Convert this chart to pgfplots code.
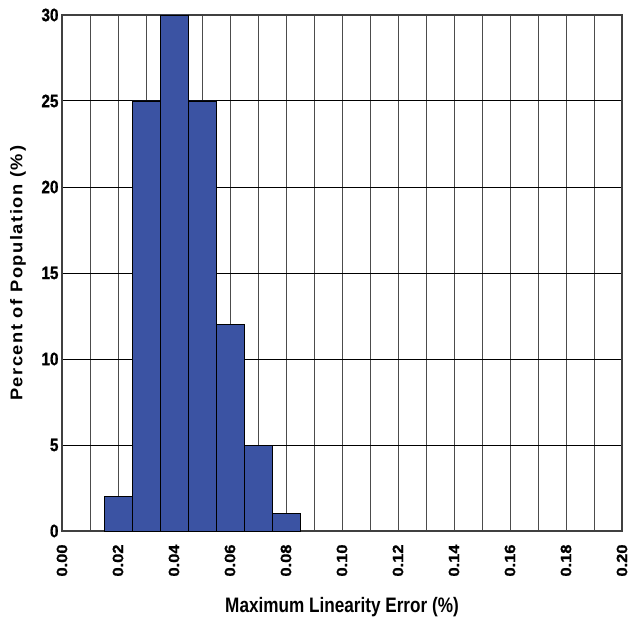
\documentclass[border=0pt]{standalone}
\usepackage{pgfplots}
\pgfplotsset{compat=1.18}
\usepackage{fontspec}
\setmainfont{Liberation Sans}
\newfontfamily\narrowfont{Liberation Sans}[FakeStretch=0.82]
\newfontfamily\ytickfont{Liberation Sans}[FakeStretch=0.85,FakeBold=1]
\newfontfamily\xtickfont{Liberation Sans}[FakeStretch=1.1,FakeBold=1]
\newfontfamily\spacedfont{Liberation Sans}[FakeStretch=1.08,LetterSpace=9]
\definecolor{barblue}{RGB}{59,83,163}
\begin{document}
\begin{tikzpicture}
\path[use as bounding box] (-62bp,-92bp) rectangle (570bp,531bp);
\begin{axis}[
  at={(0,0)}, anchor=south west,
  scale only axis, width=560bp, height=516bp,
  xmin=0, xmax=0.2, ymin=0, ymax=30,
  xtick={0,0.02,...,0.201},
  minor xtick={0.01,0.03,...,0.191},
  ytick={0,5,...,30},
  xmajorgrids, xminorgrids, ymajorgrids,
  major x grid style={draw=black!70, line width=1pt},
  minor x grid style={draw=black!70, line width=1pt},
  major y grid style={draw=black, line width=1pt},
  axis line style={draw=black!75, line width=1.1pt},
  major tick length=0pt, minor tick length=0pt,
  /pgf/number format/assume math mode=true,
  xticklabel style={rotate=90, anchor=east, font=\xtickfont\bfseries\fontsize{15}{15}\selectfont,
    /pgf/number format/fixed, /pgf/number format/fixed zerofill, /pgf/number format/precision=2},
  yticklabel style={font=\ytickfont\bfseries\fontsize{18}{18}\selectfont},
  xticklabel shift=10bp,
  yticklabel shift=0bp,
  xlabel={Maximum Linearity Error (\%)},
  ylabel={Percent of Population (\%\,)},
  xlabel style={font=\narrowfont\bfseries\fontsize{21}{21}\selectfont, at={(axis description cs:0.5,0)}, anchor=center, yshift=-76bp},
  ylabel style={font=\spacedfont\bfseries\fontsize{17}{17}\selectfont, at={(axis description cs:-0.0786,0.5)}, anchor=center},
  bar width=0.01,
]
\addplot[ybar, fill=barblue, draw=black, line width=0.7pt] coordinates {
  (0.02,2) (0.03,25) (0.04,30) (0.05,25) (0.06,12) (0.07,5) (0.08,1)
};
\end{axis}
\end{tikzpicture}
\end{document}
